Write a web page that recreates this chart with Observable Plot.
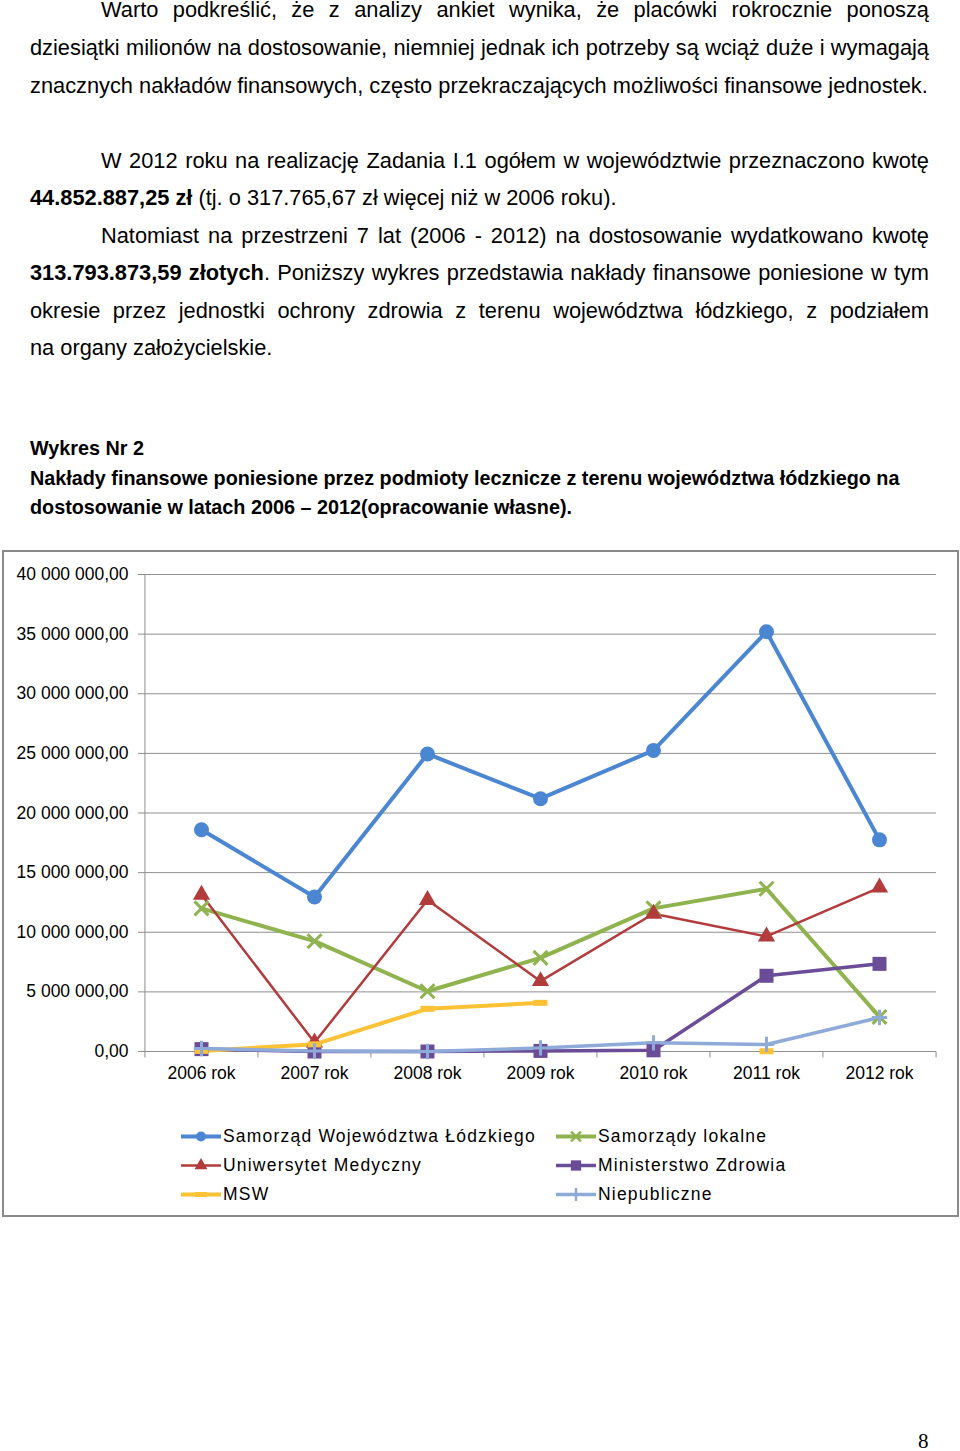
<!DOCTYPE html>
<html><head><meta charset="utf-8">
<script src="https://cdn.jsdelivr.net/npm/d3@7"></script>
<script src="https://cdn.jsdelivr.net/npm/@observablehq/plot@0.6"></script>
<style>
html,body{margin:0;padding:0;background:#fff;}
body{width:960px;height:1451px;position:relative;overflow:hidden;font-family:"Liberation Sans",Arial,sans-serif;color:#000;}
.ln{position:absolute;font-size:21.8px;line-height:37.6px;height:37.6px;}
.j{text-align:justify;text-align-last:justify;}
.h{position:absolute;left:30px;font-size:19.8px;font-weight:bold;line-height:29.5px;height:29.5px;white-space:nowrap;}
#frame{position:absolute;left:2px;top:550px;width:957px;height:667px;box-sizing:border-box;border:2px solid #8a8a8a;}
#chart{position:absolute;left:0;top:551px;}
#legend{position:absolute;left:0;top:1122px;width:960px;height:90px;}
.li{position:absolute;display:flex;align-items:center;height:29px;font-size:17.5px;letter-spacing:1.2px;white-space:nowrap;}
.li svg{margin-right:2px;}
#page{position:absolute;left:918px;top:1431px;font-family:"Liberation Serif","Times New Roman",serif;font-size:21px;line-height:21px;}
</style></head><body>
<div id="text"></div>
<div class="h" style="top:434px">Wykres Nr 2</div>
<div class="h" style="top:464px">Nakłady finansowe poniesione przez podmioty lecznicze z terenu województwa łódzkiego na</div>
<div class="h" style="top:493px">dostosowanie w latach 2006 – 2012(opracowanie własne).</div>
<div id="frame"></div>
<div id="chart"></div>
<div id="legend"></div>
<div id="page">8</div>
<script>
// ---- data ----
const years = ["2006 rok","2007 rok","2008 rok","2009 rok","2010 rok","2011 rok","2012 rok"];
const seriesNames = ["Samorząd Województwa Łódzkiego","Samorządy lokalne","Uniwersytet Medyczny","Ministerstwo Zdrowia","MSW","Niepubliczne"];
const samorzadWojewodztwa = [18600000, 12950000, 24950000, 21200000, 25250000, 35200000, 17750000];
const samorzadyLokalne    = [12000000, 9250000, 5050000, 7850000, 12000000, 13650000, 2900000];
const uniwersytetMedyczny = [13150000, 750000, 12700000, 5900000, 11550000, 9650000, 13750000];
const ministerstwoZdrowia = [200000, 0, 0, 50000, 100000, 6350000, 7350000];
const msw                 = [50000, 600000, 3580000, 4080000, null, 20000, null];
const niepubliczne        = [250000, 50000, 0, 300000, 730000, 590000, 2850000];
const yTicks = [0, 5000000, 10000000, 15000000, 20000000, 25000000, 30000000, 35000000, 40000000];

// ---- body text ----
const textLines = [
  {slot:0, left:101, j:true, html:"Warto podkreślić, że z analizy ankiet wynika, że placówki rokrocznie ponoszą"},
  {slot:1, left:30, j:true, html:"dziesiątki milionów na dostosowanie, niemniej jednak ich potrzeby są wciąż duże i wymagają"},
  {slot:2, left:30, j:false, html:"znacznych nakładów finansowych, często przekraczających możliwości finansowe jednostek."},
  {slot:4, left:101, j:true, html:"W 2012 roku na realizację Zadania I.1 ogółem w województwie przeznaczono kwotę"},
  {slot:5, left:30, j:false, html:"<b>44.852.887,25 zł</b> (tj. o 317.765,67 zł więcej niż w 2006 roku)."},
  {slot:6, left:101, j:true, html:"Natomiast na przestrzeni 7 lat (2006 - 2012) na dostosowanie wydatkowano kwotę"},
  {slot:7, left:30, j:true, html:"<b>313.793.873,59 złotych</b>. Poniższy wykres przedstawia nakłady finansowe poniesione w tym"},
  {slot:8, left:30, j:true, html:"okresie przez jednostki ochrony zdrowia z terenu województwa łódzkiego, z podziałem"},
  {slot:9, left:30, j:false, html:"na organy założycielskie."}
];
const tb = document.getElementById("text");
for (const l of textLines) {
  const d = document.createElement("div");
  d.className = "ln" + (l.j ? " j" : "");
  d.style.left = l.left + "px";
  d.style.width = (929 - l.left) + "px";
  d.style.top = (-8.6 + l.slot * 37.55) + "px";
  d.innerHTML = l.html;
  tb.appendChild(d);
}

// ---- chart ----
const series = [
  {name: seriesNames[0], values: samorzadWojewodztwa, color: "#4b86d3", width: 4,   symbol: "circle",   r: 7.5, filled: true},
  {name: seriesNames[1], values: samorzadyLokalne,    color: "#8fb34f", width: 4,   symbol: "times",    r: 6.4, filled: false, sw: 3},
  {name: seriesNames[2], values: uniwersytetMedyczny, color: "#b23b3b", width: 2.5, symbol: "triangle", r: 6.4, filled: true},
  {name: seriesNames[3], values: ministerstwoZdrowia, color: "#6b4c96", width: 3.5, symbol: "square",   r: 7.9, filled: true},
  {name: seriesNames[4], values: msw,                 color: "#fbc236", width: 4,   symbol: "dash",     r: 5,   filled: true},
  {name: seriesNames[5], values: niepubliczne,        color: "#8eaad9", width: 3.5, symbol: "plus",     r: 5,   filled: false, sw: 3}
];
const dashSymbol = {draw(ctx, size) { const w = 7, h = 3; ctx.moveTo(-w, -h); ctx.lineTo(w, -h); ctx.lineTo(w, h); ctx.lineTo(-w, h); ctx.closePath(); }};
const tickSymbol = {draw(ctx) { ctx.moveTo(0, 0); ctx.lineTo(0, 6); }};
const sym = s => s === "dash" ? dashSymbol : s;

const W = 960, H = 549, mL = 144, mR = 24, mT = 23, mB = 49;
const step = (W - mL - mR) / years.length;
const grid = "#8f8f8f";
const fmt = d3.formatLocale({decimal: ",", thousands: " ", grouping: [3], currency: ["", ""]}).format(",.2f");

const marks = [
  Plot.gridY(yTicks, {stroke: grid, strokeOpacity: 1, strokeWidth: 1}),
  Plot.ruleX([years[0]], {x: d => d, dx: -step / 2, stroke: grid, strokeWidth: 1}),
  Plot.dot(years, {x: d => d, y: () => 0, dx: -step / 2, symbol: tickSymbol, stroke: grid, fill: "none", strokeWidth: 1}),
  Plot.dot([years[years.length - 1]], {x: d => d, y: () => 0, dx: step / 2, symbol: tickSymbol, stroke: grid, fill: "none", strokeWidth: 1}),
  Plot.axisY({ticks: yTicks, tickSize: 6, tickPadding: 10, tickFormat: fmt, stroke: grid, fill: "#000", label: null}),
  Plot.axisX({tickSize: 0, tickPadding: 15, fill: "#000", label: null})
];
for (const s of series) {
  const rows = years.map((y, i) => ({year: y, v: s.values[i]}));
  marks.push(Plot.line(rows, {x: "year", y: "v", stroke: s.color, strokeWidth: s.width, strokeLinejoin: "round", strokeLinecap: "round"}));
}
for (const s of series) {
  const rows = years.map((y, i) => ({year: y, v: s.values[i]}));
  marks.push(Plot.dot(rows, {x: "year", y: "v", symbol: sym(s.symbol), r: s.r,
    fill: s.filled ? s.color : "none", stroke: s.filled ? "none" : s.color, strokeWidth: s.sw || 1}));
}

const chart = Plot.plot({
  width: W, height: H,
  marginLeft: mL, marginRight: mR, marginTop: mT, marginBottom: mB,
  x: {type: "point", domain: years, padding: 0.5, align: 0.5},
  y: {domain: [0, 40000000]},
  style: {fontFamily: '"Liberation Sans", Arial, sans-serif', fontSize: "17.5px", color: "#000", background: "transparent", overflow: "visible"},
  marks
});
document.getElementById("chart").appendChild(chart);

// ---- legend ----
const legendOrder = [
  {s: series[0], left: 181, row: 0}, {s: series[1], left: 556, row: 0},
  {s: series[2], left: 181, row: 1}, {s: series[3], left: 556, row: 1},
  {s: series[4], left: 181, row: 2}, {s: series[5], left: 556, row: 2}
];
const legendSize = {circle: 5, times: 4.6, triangle: 4.8, square: 5.8, dash: 4, plus: 4.2};
const lg = d3.select("#legend");
for (const it of legendOrder) {
  const s = it.s;
  const item = lg.append("div").attr("class", "li").style("left", it.left + "px").style("top", (it.row * 29) + "px");
  const svg = item.append("svg").attr("width", 40).attr("height", 29);
  svg.append("line").attr("x1", 0).attr("x2", 40).attr("y1", 14.5).attr("y2", 14.5)
    .attr("stroke", s.color).attr("stroke-width", s.width);
  let path;
  if (s.symbol === "dash") {
    path = "M-6,-2.5H6V2.5H-6Z";
  } else {
    const t = {circle: d3.symbolCircle, times: d3.symbolTimes, triangle: d3.symbolTriangle, square: d3.symbolSquare, plus: d3.symbolPlus}[s.symbol];
    const r = legendSize[s.symbol];
    path = d3.symbol(t, Math.PI * r * r)();
  }
  svg.append("path").attr("d", path).attr("transform", "translate(20,14.5)")
    .attr("fill", s.filled ? s.color : "none").attr("stroke", s.filled ? "none" : s.color).attr("stroke-width", 2.5);
  item.append("span").text(s.name);
}
</script>
</body></html>
